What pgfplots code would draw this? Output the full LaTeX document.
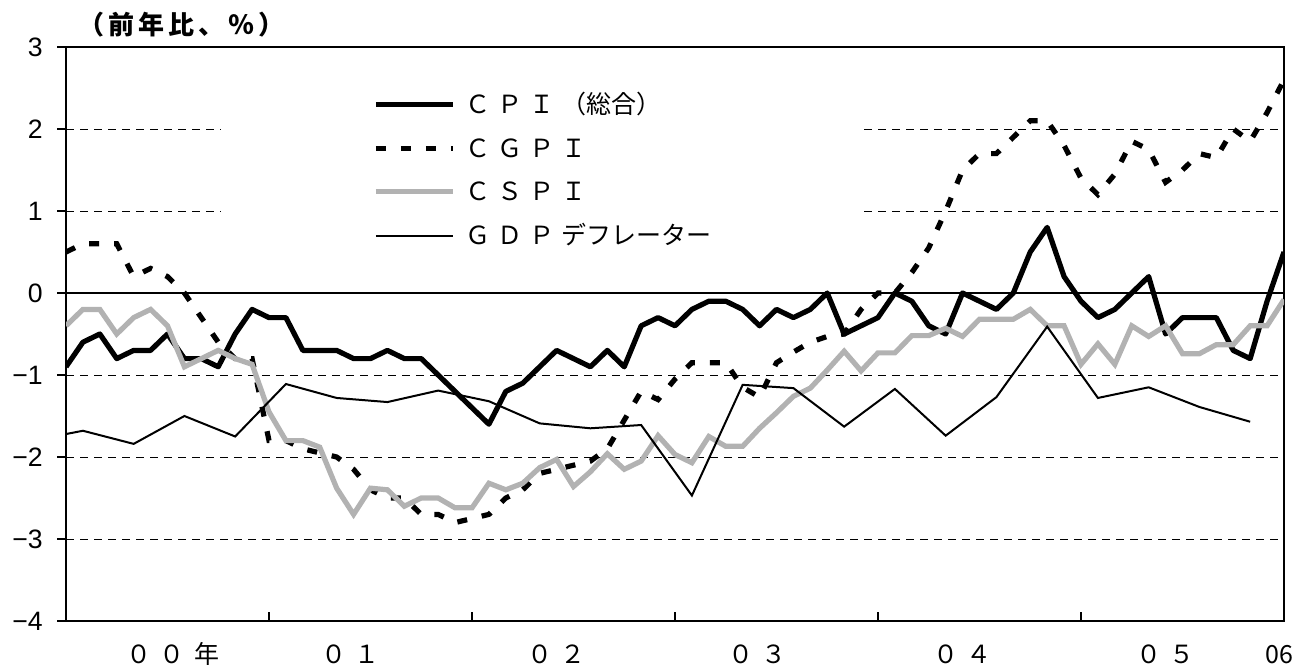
\documentclass[border=0pt]{standalone}
\usepackage{fontspec}
\setmainfont{Noto Sans CJK JP}
\newfontfamily\numfont{Liberation Sans}
\usepackage{pgfplots}
\pgfplotsset{compat=1.18}
\usepackage{pgfplotstable}

\definecolor{cspigray}{RGB}{178,178,178}
\newcommand{\jp}{\fontsize{12.5bp}{15bp}\selectfont}
\newcommand{\ls}{\hspace{3.5bp}}
\newcommand{\ts}{\hspace{2bp}}

% monthly, m = months since Jan 2000
\pgfplotstableread{
m cpi cgpi cspi
0 -0.9 0.5 -0.4
1 -0.6 0.6 -0.2
2 -0.5 0.6 -0.2
3 -0.8 0.6 -0.5
4 -0.7 0.2 -0.3
5 -0.7 0.3 -0.2
6 -0.5 0.2 -0.4
7 -0.8 0.0 -0.9
8 -0.8 -0.3 -0.8
9 -0.9 -0.6 -0.7
10 -0.5 -0.8 -0.8
11 -0.2 -0.8 -0.87
12 -0.3 -1.8 -1.45
13 -0.3 -1.8 -1.8
14 -0.7 -1.9 -1.8
15 -0.7 -1.95 -1.88
16 -0.7 -2.0 -2.38
17 -0.8 -2.15 -2.7
18 -0.8 -2.4 -2.38
19 -0.7 -2.5 -2.4
20 -0.8 -2.5 -2.6
21 -0.8 -2.7 -2.5
22 -1.0 -2.7 -2.5
23 -1.2 -2.8 -2.62
24 -1.4 -2.75 -2.62
25 -1.6 -2.7 -2.32
26 -1.2 -2.5 -2.4
27 -1.1 -2.4 -2.32
28 -0.9 -2.2 -2.13
29 -0.7 -2.15 -2.03
30 -0.8 -2.1 -2.36
31 -0.9 -2.05 -2.18
32 -0.7 -1.9 -1.96
33 -0.9 -1.55 -2.15
34 -0.4 -1.2 -2.05
35 -0.3 -1.3 -1.74
36 -0.4 -1.05 -1.97
37 -0.2 -0.85 -2.07
38 -0.1 -0.85 -1.75
39 -0.1 -0.85 -1.87
40 -0.2 -1.15 -1.87
41 -0.4 -1.27 -1.65
42 -0.2 -0.85 -1.46
43 -0.3 -0.72 -1.26
44 -0.2 -0.6 -1.16
45 0.0 -0.53 -0.94
46 -0.5 -0.5 -0.71
47 -0.4 -0.2 -0.95
48 -0.3 0.0 -0.73
49 0.0 0.0 -0.73
50 -0.1 0.25 -0.52
51 -0.4 0.55 -0.52
52 -0.5 1.0 -0.43
53 0.0 1.5 -0.53
54 -0.1 1.7 -0.32
55 -0.2 1.7 -0.32
56 0.0 1.9 -0.32
57 0.5 2.1 -0.2
58 0.8 2.1 -0.4
59 0.2 1.8 -0.4
60 -0.1 1.4 -0.87
61 -0.3 1.2 -0.62
62 -0.2 1.45 -0.87
63 0.0 1.85 -0.4
64 0.2 1.75 -0.53
65 -0.5 1.35 -0.4
66 -0.3 1.5 -0.74
67 -0.3 1.7 -0.74
68 -0.3 1.65 -0.63
69 -0.7 2.0 -0.63
70 -0.8 1.85 -0.4
71 -0.1 2.2 -0.4
72 0.5 2.6 -0.08
}\monthly

% GDP deflator, quarterly
\pgfplotstableread{
m gdp
0 -1.72
1 -1.68
4 -1.84
7 -1.50
10 -1.75
13 -1.11
16 -1.28
19 -1.33
22 -1.19
25 -1.32
28 -1.59
31 -1.65
34 -1.61
37 -2.47
40 -1.12
43 -1.16
46 -1.63
49 -1.17
52 -1.74
55 -1.27
58 -0.41
61 -1.28
64 -1.15
67 -1.39
70 -1.57
}\gdpdef

\begin{document}
\begin{tikzpicture}
\useasboundingbox (-33bp,-24bp) rectangle (615.5bp,310.5bp);
\begin{axis}[
    name=ax,
    scale only axis, width=609bp, height=287bp,
    xmin=0, xmax=72, ymin=-4, ymax=3,
    axis line style={line width=1.2bp},
    xtick={12,24,36,48,60}, xticklabels={,,,,},
    xtick align=inside, ytick align=outside,
    xtick pos=bottom, ytick pos=left,
    major tick length=4.5bp,
    tick style={black, line width=1bp},
    extra x ticks={6.3,16.8,29,40.9,53,65,71.75},
    extra x tick labels={０\hspace{4bp}０\hspace{5bp}年,０\hspace{4bp}１,０\hspace{4bp}２,０\hspace{4bp}３,０\hspace{4bp}４,０\hspace{4bp}５,06},
    extra x tick style={grid=none, major tick length=0pt},
    x tick label style={anchor=base, yshift=-21bp, font=\jp, inner sep=0pt},
    ytick={-4,-3,-2,-1,0,1,2,3},
    yticklabels={−4,−3,−2,−1,0,1,2,3},
    y tick label style={anchor=east, inner sep=0pt, xshift=-7bp, font=\fontsize{13.3bp}{15bp}\numfont},
    ymajorgrids,
    grid style={black, line width=0.5bp, dash pattern=on 4bp off 3bp},
    legend cell align=left,
    legend image code/.code={\draw[#1] (0bp,0bp) -- (38.5bp,0bp);},
    legend style={at={(rel axis cs:0.1272,1)}, anchor=north west, yshift=-10.5bp,
        draw=none, fill=white, inner xsep=76bp, inner ysep=12bp, font=\jp,
        row sep=9.85bp, column sep=5bp,
        nodes={inner sep=0pt, text height=10.5bp, text depth=1.5bp}},
]
\addplot[black, line width=0.8bp, forget plot] coordinates {(0,0) (72,0)};
\addplot[black, line width=2.6bp, line join=round] table[x=m, y=cpi] {\monthly};
\addlegendentry{Ｃ\ls Ｐ\ls Ｉ\ls（総合）}
\addplot[black, line width=2.6bp, dash pattern=on 5bp off 7.5bp] table[x=m, y=cgpi] {\monthly};
\addlegendentry{Ｃ\ls Ｇ\ls Ｐ\ls Ｉ}
\addplot[cspigray, line width=2.6bp] table[x=m, y=cspi] {\monthly};
\addlegendentry{Ｃ\ls Ｓ\ls Ｐ\ls Ｉ}
\addplot[black, line width=1bp] table[x=m, y=gdp] {\gdpdef};
\addlegendentry{Ｇ\ls Ｄ\ls Ｐ\ls デフレーター}
\end{axis}
\node[anchor=base west, inner sep=0pt, font=\fontsize{13bp}{15bp}\selectfont\bfseries, xshift=6bp, yshift=6.5bp] at (ax.north west) {（\ts 前\ts 年\ts 比\ts 、\ts ％\ts ）};
\end{tikzpicture}
\end{document}
